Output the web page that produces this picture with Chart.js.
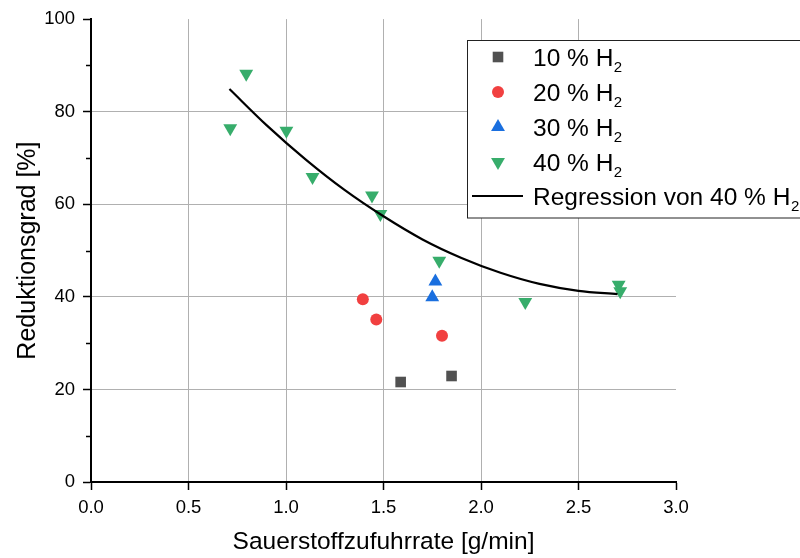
<!DOCTYPE html>
<html><head><meta charset="utf-8">
<script src="https://cdn.jsdelivr.net/npm/chart.js"></script>
<style>html,body{margin:0;padding:0;background:#fff;overflow:hidden}#wrap{width:800px;height:558px;position:relative}</style>
</head><body><div id="wrap"><canvas id="c" width="800" height="558"></canvas></div>
<script>
// ---- data ----
const seriesLabels = ['10 % H₂', '20 % H₂', '30 % H₂', '40 % H₂', 'Regression von 40 % H₂'];
const x10 = [1.588, 1.849];
const y10 = [21.6, 22.9];
const x20 = [1.394, 1.463, 1.800];
const y20 = [39.5, 35.1, 31.6];
const x30 = [1.766, 1.750];
const y30 = [43.3, 39.9];
const x40 = [0.714, 0.796, 1.002, 1.136, 1.441, 1.484, 1.786, 2.227, 2.706, 2.714];
const y40 = [76.4, 88.2, 75.9, 65.9, 61.9, 57.9, 47.8, 38.9, 42.6, 41.2];
const xReg = [0.71, 0.9, 1.1, 1.3, 1.5, 1.7, 1.9, 2.1, 2.3, 2.5, 2.7];
const yReg = [84.9, 77.1, 69.7, 63.1, 57.4, 52.4, 48.4, 45.2, 42.8, 41.3, 40.6];
const yMajorTicks = [0, 20, 40, 60, 80, 100];
const xAxisTitle = 'Sauerstoffzufuhrrate [g/min]';
const yAxisTitle = 'Reduktionsgrad [%]';

const colors = ['#515151', '#F14040', '#1A6FDF', '#37AD6B', '#000000'];
const FONT = 'Arial, "Liberation Sans", sans-serif';

function pts(xs, ys) { return xs.map((x, i) => ({x: x, y: ys[i]})); }

// ---- legend + minor tick plugin ----
function drawSym(ctx, kind, cx, cy, col) {
  ctx.save();
  ctx.fillStyle = col;
  ctx.beginPath();
  if (kind === 0) {
    ctx.rect(cx - 5.3, cy - 5.3, 10.6, 10.6);
  } else if (kind === 1) {
    ctx.arc(cx, cy, 6, 0, Math.PI * 2);
  } else if (kind === 2) {
    ctx.moveTo(cx, cy - 8); ctx.lineTo(cx + 6.93, cy + 4); ctx.lineTo(cx - 6.93, cy + 4);
  } else if (kind === 3) {
    ctx.moveTo(cx, cy + 8); ctx.lineTo(cx + 6.93, cy - 4); ctx.lineTo(cx - 6.93, cy - 4);
  }
  ctx.closePath();
  ctx.fill();
  if (kind === 4) {
    ctx.strokeStyle = col; ctx.lineWidth = 2;
    ctx.beginPath(); ctx.moveTo(472, cy); ctx.lineTo(523, cy); ctx.stroke();
  }
  ctx.restore();
}
function drawLabel(ctx, text, x, baseline) {
  const parts = text.split('₂');
  ctx.save();
  ctx.fillStyle = '#000';
  ctx.textBaseline = 'alphabetic';
  ctx.textAlign = 'left';
  let cx = x;
  parts.forEach((p, i) => {
    ctx.font = '24.5px ' + FONT;
    ctx.fillText(p, cx, baseline);
    cx += ctx.measureText(p).width;
    if (i < parts.length - 1) {
      ctx.font = '15px ' + FONT;
      ctx.fillText('2', cx + 0.5, baseline + 6);
      cx += ctx.measureText('2').width + 0.5;
    }
  });
  ctx.restore();
}
const extras = {
  id: 'extras',
  afterDraw(chart) {
    const ctx = chart.ctx;
    const ys = chart.scales.y;
    const left = chart.chartArea.left;
    // minor ticks on y axis
    ctx.save();
    ctx.strokeStyle = '#000'; ctx.lineWidth = 1.5;
    ys.ticks.forEach(t => {
      if (!yMajorTicks.includes(t.value)) {
        const py = Math.round(ys.getPixelForValue(t.value)) + 0.5;
        ctx.beginPath(); ctx.moveTo(left - 5, py); ctx.lineTo(left, py); ctx.stroke();
      }
    });
    ctx.restore();
    // legend box
    ctx.save();
    ctx.fillStyle = '#fff';
    ctx.fillRect(467, 40, 345, 178);
    ctx.strokeStyle = '#222'; ctx.lineWidth = 1;
    ctx.strokeRect(467.5, 40.5, 345, 177.5);
    ctx.restore();
    const rowsC = [57, 92, 127, 162, 196];
    seriesLabels.forEach((lab, i) => {
      drawSym(ctx, i, 498, rowsC[i], colors[i]);
      drawLabel(ctx, lab, 533, rowsC[i] + 8.8);
    });
  }
};

const gridCol = '#b0b0b0';
new Chart(document.getElementById('c'), {
  type: 'scatter',
  data: {
    datasets: [
      {label: seriesLabels[4], data: pts(xReg, yReg), showLine: true, borderColor: colors[4], borderWidth: 2.2,
       pointRadius: 0, cubicInterpolationMode: 'monotone', order: 0, fill: false},
      {label: seriesLabels[0], data: pts(x10, y10), pointStyle: 'rect', pointRadius: 7.5,
       backgroundColor: colors[0], borderWidth: 0, order: 1},
      {label: seriesLabels[1], data: pts(x20, y20), pointStyle: 'circle', pointRadius: 6,
       backgroundColor: colors[1], borderWidth: 0, order: 1},
      {label: seriesLabels[2], data: pts(x30, y30), pointStyle: 'triangle', pointRadius: 8,
       backgroundColor: colors[2], borderWidth: 0, order: 1},
      {label: seriesLabels[3], data: pts(x40, y40), pointStyle: 'triangle', rotation: 180, pointRadius: 8,
       backgroundColor: colors[3], borderWidth: 0, order: 1}
    ]
  },
  options: {
    responsive: false, animation: false, devicePixelRatio: 1,
    layout: {padding: {left: 0, top: 18, right: 124, bottom: 0}},
    plugins: {legend: {display: false}, tooltip: {enabled: false}},
    scales: {
      x: {
        type: 'linear', min: 0, max: 3,
        afterFit(s) { s.height = 76; },
        border: {display: true, color: '#000', width: 2},
        grid: {
          color: c => (c.tick && c.tick.value > 0 && c.tick.value < 3) ? gridCol : 'rgba(0,0,0,0)',
          lineWidth: 1, tickColor: '#000', tickLength: 8, tickWidth: 1.5
        },
        ticks: {stepSize: 0.5, color: '#000', font: {family: FONT, size: 18.5}, padding: 7,
                maxRotation: 0, callback: v => v.toFixed(1)},
        title: {display: true, text: xAxisTitle, color: '#000', font: {family: FONT, size: 24.5},
                padding: {top: 0, bottom: 1}}
      },
      y: {
        type: 'linear', min: 0, max: 100,
        afterFit(s) { s.width = 91; },
        border: {display: true, color: '#000', width: 2},
        grid: {
          color: c => (c.tick && yMajorTicks.includes(c.tick.value) && c.tick.value > 0 && c.tick.value < 100) ? gridCol : 'rgba(0,0,0,0)',
          lineWidth: 1,
          tickColor: c => (c.tick && yMajorTicks.includes(c.tick.value)) ? '#000' : 'rgba(0,0,0,0)',
          tickLength: 8, tickWidth: 1.5
        },
        ticks: {stepSize: 10, color: '#000', font: {family: FONT, size: 18.5}, padding: 8,
                callback: v => yMajorTicks.includes(v) ? String(v) : ''},
        title: {display: true, text: yAxisTitle, color: '#000', font: {family: FONT, size: 25},
                padding: {top: 13, bottom: 0}}
      }
    }
  },
  plugins: [extras]
});
</script></body></html>
